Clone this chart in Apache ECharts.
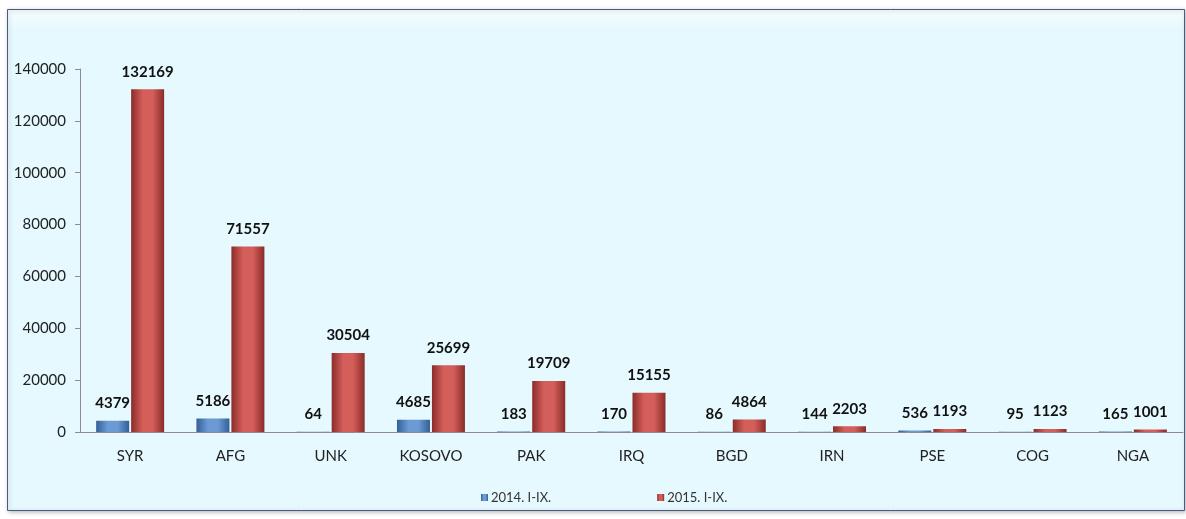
<!DOCTYPE html>
<html>
<head>
<meta charset="utf-8">
<script src="https://cdn.jsdelivr.net/npm/echarts@6/dist/echarts.min.js"></script>
<style>
  html, body { margin: 0; padding: 0; background: #fff; }
  #main { width: 1186px; height: 519px; }
</style>
</head>
<body>
<div id="main"></div>
<script>
// data
var countries = ['SYR', 'AFG', 'UNK', 'KOSOVO', 'PAK', 'IRQ', 'BGD', 'IRN', 'PSE', 'COG', 'NGA'];
var seriesNames = ['2014. I-IX.', '2015. I-IX.'];
var values2014 = [4379, 5186, 64, 4685, 183, 170, 86, 144, 536, 95, 165];
var values2015 = [132169, 71557, 30504, 25699, 19709, 15155, 4864, 2203, 1193, 1123, 1001];

var font = 'Lato, "Open Sans", sans-serif';

// bar fill: dark edges, light middle, like the rounded 3D look
function barFill(edge, mid) {
    return new echarts.graphic.LinearGradient(0, 0, 1, 0, [
        { offset: 0, color: edge },
        { offset: 0.35, color: mid },
        { offset: 0.65, color: mid },
        { offset: 1, color: edge }
    ]);
}

var labelStyle = {
    show: true,
    position: 'top',
    distance: 10,
    color: '#111',
    fontFamily: font,
    fontWeight: 'bold',
    fontSize: 15
};

var chart = echarts.init(document.getElementById('main'));
var option = {
    backgroundColor: '#fff',
    textStyle: { fontFamily: font },
    graphic: [{
        type: 'rect',
        z: -10,
        shape: { x: 7.5, y: 9.5, width: 1177, height: 501 },
        style: {
            fill: new echarts.graphic.LinearGradient(0, 0, 0, 1, [
                { offset: 0, color: '#f6fdff' },
                { offset: 0.04, color: '#e6f9fe' },
                { offset: 1, color: '#e6f9fe' }
            ]),
            stroke: '#4a5a80',
            lineWidth: 1,
            shadowColor: 'rgba(0,0,0,0.25)',
            shadowBlur: 4,
            shadowOffsetX: 1,
            shadowOffsetY: 1
        }
    }],
    grid: { left: 80, right: 3, top: 69, bottom: 87 },
    legend: {
        data: seriesNames,
        left: 476,
        top: 486,
        itemWidth: 7,
        itemHeight: 7,
        itemGap: 106,
        icon: 'rect',
        textStyle: { color: '#333', fontSize: 13, fontFamily: font, padding: [0, 0, 0, -2] }
    },
    xAxis: {
        type: 'category',
        data: countries,
        axisLine: { lineStyle: { color: '#8c8c8c' } },
        axisTick: { show: false },
        axisLabel: { color: '#222', fontSize: 15, margin: 17, fontFamily: font }
    },
    yAxis: {
        type: 'value',
        min: 0,
        max: 140000,
        interval: 20000,
        splitLine: { show: false },
        axisLine: { show: true, lineStyle: { color: '#8c8c8c' } },
        axisTick: { show: true, length: 5, lineStyle: { color: '#8c8c8c' } },
        axisLabel: {
            color: '#222', fontSize: 15, margin: 14, fontFamily: font,
            formatter: function (v) { return String(v); }
        }
    },
    series: [{
        name: seriesNames[0],
        type: 'bar',
        data: values2014,
        barWidth: 33,
        barGap: '6%',
        itemStyle: { color: barFill('#345f96', '#6b9ad4') },
        label: labelStyle
    }, {
        name: seriesNames[1],
        type: 'bar',
        data: values2015,
        barWidth: 33,
        itemStyle: { color: barFill('#8a2c2a', '#d45e59') },
        label: labelStyle
    }]
};
chart.setOption(option);
</script>
</body>
</html>
